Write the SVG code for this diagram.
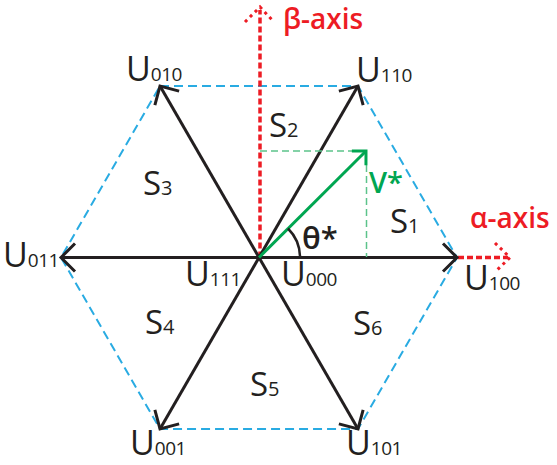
<svg xmlns="http://www.w3.org/2000/svg" width="557" height="465" viewBox="0 0 557 465">
<style>
text{font-family:"Open Sans","Liberation Sans",sans-serif;fill:#231f20}
.u{font-size:34px}
.sub{font-size:19px;letter-spacing:-0.5px}
.s{font-size:33px}
.ss{font-size:20px}
.ax{font-size:28px;font-weight:600;fill:#ed1c24}
.vec{stroke:#231f20;stroke-width:3;fill:none}
.hex{stroke:#29abe2;stroke-width:2;fill:none;stroke-dasharray:9 5}
.red{stroke:#ed1c24;stroke-width:3.5;fill:none;stroke-dasharray:6 3}
.redh{stroke:#ed1c24;stroke-width:3;fill:none;stroke-dasharray:3 4}
.proj{stroke:#5cc38a;stroke-width:1.5;fill:none;stroke-dasharray:7 4}
</style>
<defs>
<marker id="ah" markerUnits="userSpaceOnUse" markerWidth="40" markerHeight="40" viewBox="-20 -20 40 40" refX="0" refY="0" orient="auto">
<path d="M-14,-14 L0,0 L-14,14" fill="none" stroke="#231f20" stroke-width="3"/>
</marker>
<marker id="gh" markerUnits="userSpaceOnUse" markerWidth="40" markerHeight="40" viewBox="-20 -20 40 40" refX="0" refY="0" orient="auto">
<path d="M-10,-10 L0,0 L-10,10" fill="none" stroke="#00a651" stroke-width="3"/>
</marker>
</defs>
<g id="hexagon">
<polygon class="hex" points="160,86 358,86 457,257.5 358,429 160,429 61,257.5"/>
</g>
<g id="axes">
<line class="red" x1="260" y1="257.5" x2="260" y2="10"/>
<path class="redh" d="M245,22 L260,7 L274,22"/>
<line class="red" x1="458" y1="257.5" x2="508" y2="257.5"/>
<path class="redh" d="M495,243 L510,257.5 L495,272"/>
</g>
<g id="connectors">
<line class="vec" x1="259" y1="257.5" x2="457" y2="257.5" marker-end="url(#ah)"/>
<line class="vec" x1="259" y1="257.5" x2="358" y2="86" marker-end="url(#ah)"/>
<line class="vec" x1="259" y1="257.5" x2="160" y2="86" marker-end="url(#ah)"/>
<line class="vec" x1="259" y1="257.5" x2="61" y2="257.5" marker-end="url(#ah)"/>
<line class="vec" x1="259" y1="257.5" x2="160" y2="429" marker-end="url(#ah)"/>
<line class="vec" x1="259" y1="257.5" x2="358" y2="429" marker-end="url(#ah)"/>
<path class="proj" d="M260,151 L366,151 M366.5,165 L366.5,257"/>
<line x1="259" y1="257.5" x2="366" y2="151" stroke="#00a651" stroke-width="3" marker-end="url(#gh)"/>
<path d="M300,257.5 A41,41 0 0 0 288,228.5" fill="none" stroke="#231f20" stroke-width="2.5"/>
</g>
<g id="labels">
<text class="ax" x="283" y="29">β-axis</text>
<text class="ax" x="470" y="228">α-axis</text>
<text x="369" y="193" style="font-size:29px;font-weight:600;fill:#00a651">V*</text>
<text x="302" y="249" style="font-size:31px;font-weight:600">θ*</text>
</g>
<g id="U010"><text class="u" x="126" y="81">U<tspan class="sub">010</tspan></text></g>
<g id="U110"><text class="u" x="356" y="82">U<tspan class="sub">110</tspan></text></g>
<g id="U011"><text class="u" x="3" y="267">U<tspan class="sub">011</tspan></text></g>
<g id="U100"><text class="u" x="464" y="290">U<tspan class="sub">100</tspan></text></g>
<g id="U111"><text class="u" x="185" y="286">U<tspan class="sub">111</tspan></text></g>
<g id="U000"><text class="u" x="281" y="286">U<tspan class="sub">000</tspan></text></g>
<g id="U001"><text class="u" x="130" y="455">U<tspan class="sub">001</tspan></text></g>
<g id="U101"><text class="u" x="346" y="455">U<tspan class="sub">101</tspan></text></g>
<g id="S1"><text class="s" x="390" y="233">S<tspan class="ss">1</tspan></text></g>
<g id="S2"><text class="s" x="269" y="137">S<tspan class="ss">2</tspan></text></g>
<g id="S3"><text class="s" x="143" y="195">S<tspan class="ss">3</tspan></text></g>
<g id="S4"><text class="s" x="145" y="334">S<tspan class="ss">4</tspan></text></g>
<g id="S5"><text class="s" x="250" y="396">S<tspan class="ss">5</tspan></text></g>
<g id="S6"><text class="s" x="353" y="335">S<tspan class="ss">6</tspan></text></g>
</svg>
